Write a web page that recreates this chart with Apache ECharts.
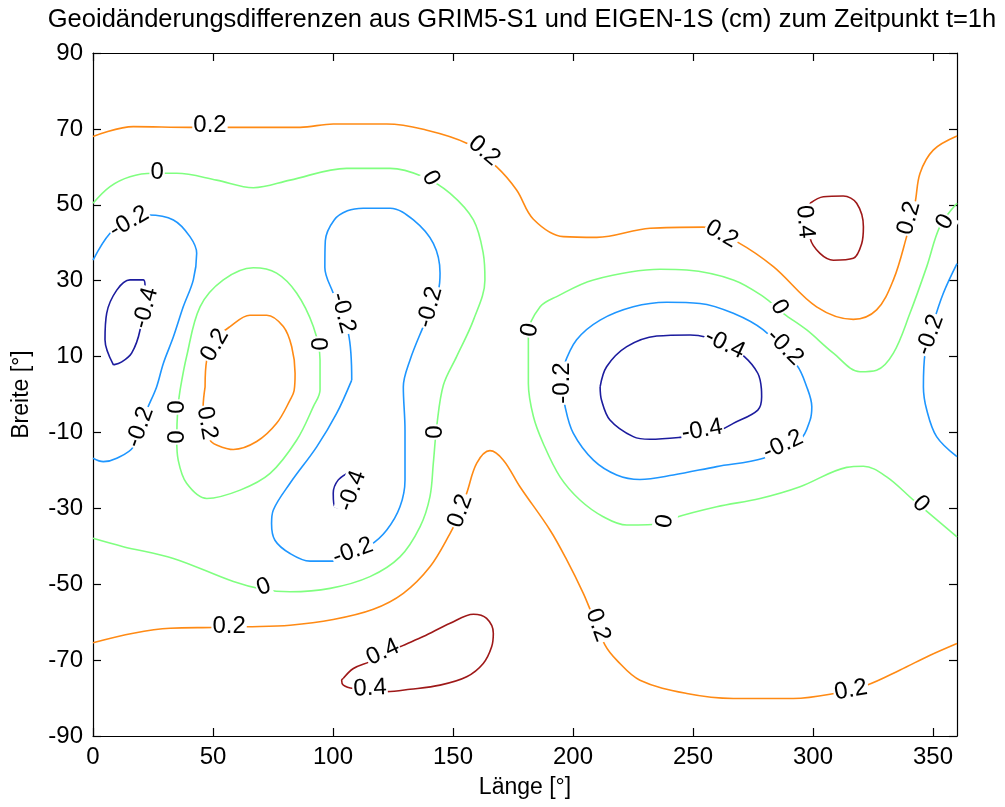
<!DOCTYPE html>
<html>
<head>
<meta charset="utf-8">
<script src="https://cdn.jsdelivr.net/npm/echarts@6/dist/echarts.min.js"></script>
<style>
html,body{margin:0;padding:0;background:#fff;}
#chart{width:1005px;height:807px;}
</style>
</head>
<body>
<div id="chart"></div>
<script>
// ---- data (longitude °, latitude °) ----
const titleText = 'Geoidänderungsdifferenzen aus GRIM5-S1 und EIGEN-1S (cm) zum Zeitpunkt t=1h';
const xName = 'Länge [°]';
const yName = 'Breite [°]';
const xTicks = [0, 50, 100, 150, 200, 250, 300, 350];
const yTicks = [-90, -70, -50, -30, -10, 10, 30, 50, 70, 90];
const levels = [-0.4, -0.2, 0, 0.2, 0.4];

// level 0.2
const pos02North = [[0,68],[16.8,70.6],[40.4,70.4],[86.3,70.4],[100.1,71.3],[122.4,71.3],[137.6,69.9],[155.7,66.2],[168.2,60],[176.5,53.9],[183.5,46.2],[196,41.6],[209.9,41.4],[232.1,43.8],[254.3,44.1],[268.2,40.3],[283.5,33.7],[301.5,23.1],[316.8,19.8],[326.5,22.3],[333.5,30.2],[339,41.6],[342.5,50.4],[344.6,58.3],[350.1,64.4],[360,68.1]];
const pos02West = [[46.7,2],[47.4,9.1],[51,14.5],[57.1,17.9],[65.4,20.9],[72.4,20.9],[79.3,17.9],[82.8,12.6],[84.2,5.6],[83.8,1],[82.1,-1.5],[76.5,-7.6],[68.2,-12.4],[58.5,-14.5],[51.5,-13.3],[48.8,-12],[45.9,-3.2],[46.7,2]];
const pos02South = [[0,-65.4],[16.8,-62.9],[32.1,-61.6],[50.1,-61.4],[64,-61.2],[82.1,-60.8],[100.1,-59.3],[116.8,-56.6],[129.3,-52.4],[140.4,-45.4],[148.8,-36.6],[151.5,-33],[155.7,-26],[159.9,-18.1],[165.4,-14.8],[171,-17.3],[177.9,-24.3],[190.4,-35.7],[197.4,-43.6],[204.3,-52.4],[207.8,-57.7],[213.3,-66],[218.2,-70],[227.9,-75.3],[247.4,-78.8],[266.8,-80.1],[291.8,-80.1],[307.1,-79],[322.4,-76.6],[336.3,-72.6],[348.8,-68.7],[360,-65.6]];
// level 0.4
const pos04North = [[298.8,50.4],[304.3,52.1],[312.6,52.3],[318.2,50.4],[321,44.2],[320.3,39.8],[316.8,35.9],[308.5,35.4],[302.9,37.2],[298.8,41.2],[298.3,45.8],[298.8,50.4]];
const pos04South = [[104.3,-74.8],[108.5,-72.2],[115.4,-70.4],[127.9,-66.5],[137.6,-63.8],[148.8,-60.3],[158.5,-57.9],[164,-59],[166.8,-62.9],[166.1,-66.5],[162.6,-70.9],[155.7,-74.4],[144.6,-76.6],[132.1,-77.7],[122.4,-78.3],[108.5,-77.5],[104.3,-76.6],[103.6,-75.3],[104.3,-74.8]];
// level 0
const zeroNorth = [[0,50.4],[7.1,54.8],[15.4,57.4],[25.1,58.3],[34.9,58.3],[51.5,56.5],[66.8,54.5],[82.1,56.5],[105.7,59.6],[123.8,59.6],[137.6,57.4],[148.8,53],[158.5,46],[162.6,37.2],[163.3,30.2],[158.5,19.6],[151.5,10],[146,2.5],[143.2,-8.5],[141.8,-18.1],[140.4,-26.9],[136.3,-34.8],[127.9,-42.8],[115.4,-48],[98.8,-51.1],[82.1,-52],[71,-51.4],[58.5,-49.3],[33.5,-43.2],[12.6,-40.1],[0,-37.9]];
const zeroWest = [[36.3,1.2],[39,10],[44.6,23.1],[54.3,30.2],[66.8,33.4],[76.5,32],[84.9,26.7],[91.8,17.9],[94.6,9.1],[94.6,1.2],[91.8,-3.2],[84.9,-12],[73.8,-20.8],[61.3,-25.2],[47.4,-27.4],[39,-23.4],[35.5,-17.3],[34.9,-12],[35.3,-4],[36.3,1.2]];
const zeroEast = [[360,-37.5],[341.8,-27.8],[330.7,-21.7],[321,-18.9],[314,-19.2],[294.6,-24.3],[277.9,-27.4],[259.9,-29.6],[241.8,-32.6],[237.6,-34],[222.4,-34.4],[212.6,-32.2],[202.9,-27.8],[194.6,-21.7],[187.6,-12.9],[183.5,-5.8],[181.4,2.9],[181.4,16.1],[186.3,23.1],[193.2,25.8],[208.5,30.2],[236.3,33],[247.4,32.8],[266.8,30.2],[279.3,25.8],[287.6,21.4],[297.4,17],[308.5,10.9],[319.6,6],[326.5,6.4],[333.5,10.9],[340.4,21.4],[347.4,33.7],[352.9,44.3],[360,50.4]];
// level -0.2
const neg02West = [[0,35.4],[7.1,42.5],[15,46],[23,47.3],[33.5,46],[40.4,41.6],[43.2,37.2],[41.8,30.2],[37.6,23.1],[33.5,15.2],[29.3,8.2],[26.5,2],[22.4,-4.1],[16.8,-13.8],[9.9,-16.8],[4.3,-17.7],[0,-16.8]];
const neg02Edge = [[360,34.5],[354.3,26.7],[350.1,18.8],[346.7,10.9],[346,2],[347.4,-4.1],[351.5,-11.1],[360,-16.4]];
const neg02Mid = [[107.8,3.8],[106.4,16.1],[100.1,26.7],[96.6,33.5],[96.8,40.5],[100.5,46],[106,48.4],[112.6,49.1],[123.8,49.1],[133.5,46],[141.8,39.8],[144.6,32],[143.9,27.5],[137.6,17.9],[132.1,9.1],[129.3,2],[130,-9.4],[130,-22.5],[127.9,-29.6],[122.4,-35.7],[115.4,-39.7],[100.1,-43.9],[90.4,-43.9],[82.1,-41.9],[75.8,-38.4],[74.4,-34],[75.1,-30.5],[82.1,-23.4],[93.2,-13.8],[101.5,-5],[107.8,3.8]];
const neg02East = [[196,7.3],[201.5,14.4],[211.3,19.6],[225.1,23.1],[239,24.3],[252.9,24],[266.8,21.4],[279.3,17],[293.2,7.8],[297.4,2],[299.5,-3.2],[298.8,-6.7],[294.6,-12],[279.3,-16.8],[259.9,-19],[241.8,-21.2],[227.9,-22.4],[218.2,-21.2],[208.5,-17.3],[200.1,-10.2],[196.7,-3.2],[195.8,2],[196,7.3]];
// level -0.4
const neg04West = [[8.5,7.8],[5,14.4],[5.7,21.4],[9.9,27.5],[15.4,30.2],[21,30.2],[21.7,28.4],[19.6,17],[16.1,10.9],[12,8.6],[8.5,7.8]];
const neg04Mid = [[107.1,-20.4],[102.2,-22.5],[100.1,-26],[100.8,-29.6],[104.3,-29.8],[107.5,-27],[108.5,-23],[107.1,-20.4]];
const neg04East = [[211.3,2],[214,7.3],[222.4,12.6],[234.9,15.4],[248.8,15.7],[255.7,15.1],[263.3,13.3],[271.4,10],[277,5.6],[278.5,1.5],[278.6,-0.6],[277,-4.1],[266.8,-7.6],[261.3,-9.4],[253.8,-10.5],[244.6,-11.3],[232.1,-11.8],[225.1,-11.1],[215.4,-6.7],[211.9,-1.5],[211.3,2]];

// contour labels: [lon, lat, text]
const labelPoints = [
 [48.75,71,'0.2'],[163,64.2,'0.2'],[26.7,58.6,'0'],[140.8,57,'0'],[15,45.5,'-0.2'],[22,22.8,'-0.4'],
 [50.8,13,'0.2'],[104.2,21.5,'-0.2'],[93.8,13.3,'0'],[140.4,23,'-0.2'],[182,17,'0'],[262,42.3,'0.2'],
 [296.7,45.5,'0.4'],[340,46.5,'0.2'],[355,45.5,'0'],[286,23,'0'],[263.3,13.3,'-0.4'],[288.3,12.5,'-0.2'],
 [348.8,15.7,'-0.2'],[195.4,3,'-0.2'],[19.6,-8.6,'-0.2'],[35,-3.3,'0'],[35,-11.2,'0'],[47.5,-7.5,'0.2'],
 [142.5,-9.9,'0'],[108,-25.4,'-0.4'],[153,-30.7,'0.2'],[108.3,-41.3,'-0.2'],[71.2,-50.7,'0'],[56.7,-61,'0.2'],
 [120.8,-67.9,'0.4'],[115.4,-77.4,'0.4'],[253.8,-9.4,'-0.4'],[287.5,-13.3,'-0.2'],[238.3,-33.4,'0'],
 [345,-28.9,'0'],[210.4,-60.8,'0.2'],[315.8,-77.9,'0.2']
];
// label angles (degrees, counter-clockwise), same order as labelPoints
const labelAngles = [0,-40,0,-60,30,75,60,-75,-90,75,80,-30,-85,75,60,-60,-25,-45,70,90,70,90,90,-80,90,70,70,20,20,0,25,3,10,25,80,-45,-70,10];

// ---- chart ----
const levelColor = {'-0.4':'#1c1c9e','-0.2':'#1e96ff','0':'#80ff80','0.2':'#ff8a14','0.4':'#9e1818'};
const contourLines = [
  [0.2,pos02North],[0.2,pos02West],[0.2,pos02South],[0.4,pos04North],[0.4,pos04South],
  [0,zeroNorth],[0,zeroWest],[0,zeroEast],
  [-0.2,neg02West],[-0.2,neg02Edge],[-0.2,neg02Mid],[-0.2,neg02East],
  [-0.4,neg04West],[-0.4,neg04Mid],[-0.4,neg04East]
];
const FONT = "'Liberation Sans', Arial, sans-serif";
const series = contourLines.map(([lv, pts]) => ({
  type: 'line', data: pts, showSymbol: false, smooth: 0.35, smoothMonotone: null,
  lineStyle: {color: levelColor[String(lv)], width: 1.6}, z: 2, silent: true, animation: false
}));
series.push({
  type: 'scatter', symbol: 'circle', symbolSize: 0.5, z: 5, silent: true, animation: false,
  itemStyle: {color: 'rgba(255,255,255,0)'},
  data: labelPoints.map((p, i) => ({
    value: [p[0], p[1]],
    label: {show: true, formatter: p[2], rotate: labelAngles[i], position: 'inside',
      align: 'center', verticalAlign: 'middle', color: '#000', opacity: 1,
      textBorderWidth: 0, fontSize: 24, fontFamily: FONT,
      backgroundColor: '#fff', padding: [0, 1]}
  }))
});

const chart = echarts.init(document.getElementById('chart'), null, {renderer: 'canvas'});
const axisCommon = {
  type: 'value', splitLine: {show: false},
  axisLine: {show: true, onZero: false, lineStyle: {color: '#000', width: 1.2}},
  axisTick: {show: true, inside: true, length: 8, lineStyle: {color: '#000', width: 1.2}}
};
chart.setOption({
  animation: false,
  backgroundColor: '#fff',
  grid: {left: 93, right: 48, top: 53, bottom: 71, containLabel: false},
  graphic: [{type: 'text', x: 522, y: 20, style: {text: titleText, fontSize: 25.5, fontFamily: FONT,
    fill: '#000', align: 'center', verticalAlign: 'middle'}}],
  xAxis: [
    Object.assign({}, axisCommon, {min: 0, max: 360, position: 'bottom',
      name: xName, nameLocation: 'middle', nameGap: 40,
      nameTextStyle: {fontSize: 23, fontFamily: FONT, color: '#000'},
      axisTick: Object.assign({}, axisCommon.axisTick, {customValues: xTicks}),
      axisLabel: {customValues: xTicks, fontSize: 24, fontFamily: FONT, color: '#000', margin: 9}}),
    Object.assign({}, axisCommon, {min: 0, max: 360, position: 'top',
      axisTick: Object.assign({}, axisCommon.axisTick, {customValues: xTicks}),
      axisLabel: {show: false}})
  ],
  yAxis: [
    Object.assign({}, axisCommon, {min: -90, max: 90, position: 'left',
      name: yName, nameLocation: 'middle', nameGap: 60, nameRotate: 90,
      nameTextStyle: {fontSize: 23, fontFamily: FONT, color: '#000'},
      axisTick: Object.assign({}, axisCommon.axisTick, {customValues: yTicks}),
      axisLabel: {customValues: yTicks, fontSize: 24, fontFamily: FONT, color: '#000', margin: 10}}),
    Object.assign({}, axisCommon, {min: -90, max: 90, position: 'right',
      axisTick: Object.assign({}, axisCommon.axisTick, {customValues: yTicks}),
      axisLabel: {show: false}})
  ],
  series: series
});
</script>
</body>
</html>
